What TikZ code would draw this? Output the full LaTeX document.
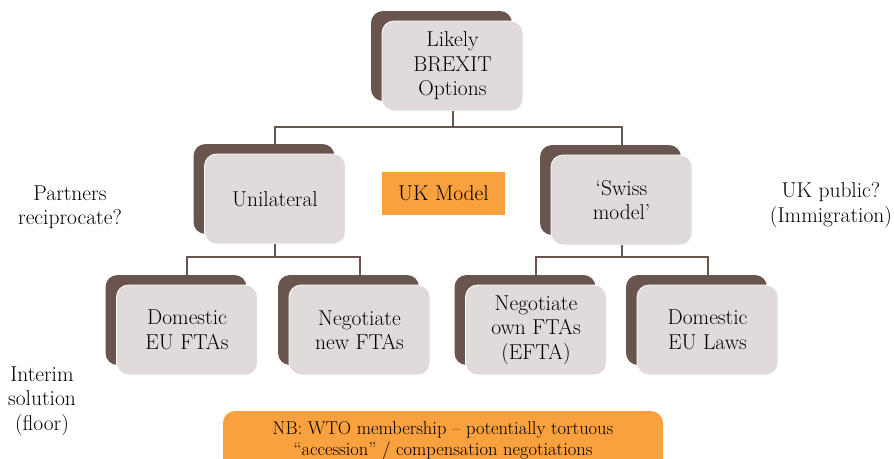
\documentclass[tikz,border=0pt]{standalone}
\usepackage{fontspec}
\definecolor{cardback}{HTML}{6A554E}
\definecolor{cardfront}{HTML}{E0DBDA}
\definecolor{hilite}{HTML}{F9A03F}
\tikzset{
  backcard/.style={fill=cardback, rounded corners=12pt, minimum width=141pt, minimum height=90pt, inner sep=0pt, outer sep=0pt},
  frontcard/.style={fill=cardfront, draw=white, line width=0.8pt, rounded corners=12pt, minimum width=141pt, minimum height=90pt, inner sep=2pt, outer sep=0pt, align=center, font=\fontsize{21.5}{24.5}\selectfont},
  conn/.style={draw=cardback, line width=2pt},
  sidelabel/.style={align=center, font=\fontsize{21.5}{24.5}\selectfont},
  tag/.style={fill=hilite, minimum width=123pt, minimum height=43pt, font=\fontsize{21.5}{24.5}\selectfont},
  note/.style={fill=hilite, rounded corners=12pt, minimum width=440pt, minimum height=60pt, align=center, font=\fontsize{18.5}{21}\selectfont}
}
% #1 name, #2 x, #3 y, #4 text
\newcommand{\cardpair}[4]{%
  \node[backcard] (#1b) at (#2-11,#3-10) {};
  \node[frontcard] (#1) at (#2,#3) {#4};
}
\begin{document}
\begin{tikzpicture}[x=1pt, y=-1pt]
\useasboundingbox (0,0) rectangle (894,458);
\clip (0,0) rectangle (894,458);

% option tree
\cardpair{top}{452.5}{66}{Likely\\BREXIT\\Options}
\cardpair{uni}{275}{199}{Unilateral}
\cardpair{swiss}{621.5}{200}{`Swiss\\model'}
\cardpair{dom}{187}{330}{Domestic\\EU FTAs}
\cardpair{neg}{359.5}{330}{Negotiate\\new FTAs}
\cardpair{own}{536}{330}{Negotiate\\own FTAs\\(EFTA)}
\cardpair{laws}{707.5}{330}{Domestic\\EU Laws}

% connectors
\draw[conn] (top.south) -- ++(0,16) -| (uni.north |- unib.north);
\draw[conn] (top.south) -- ++(0,16) -| (swiss.north |- swissb.north);
\draw[conn] (uni.south) -- ++(0,13) -| (dom.north |- domb.north);
\draw[conn] (uni.south) -- ++(0,13) -| (neg.north |- negb.north);
\draw[conn] (swiss.south) -- ++(0,12) -| (own.north |- ownb.north);
\draw[conn] (swiss.south) -- ++(0,12) -| (laws.north |- lawsb.north);

% labels
\node[tag] (ukmodel) at (443.5,193.5) {UK Model};
\node[sidelabel] (partners) at (70,207) {Partners\\reciprocate?};
\node[sidelabel] (public) at (831,205) {UK public?\\(Immigration)};
\node[sidelabel] (interim) at (42,401) {Interim\\solution\\(floor)};
\node[note] (wto) at (443,441) {NB: WTO membership -- potentially tortuous\\``accession'' / compensation negotiations};
\end{tikzpicture}
\end{document}
